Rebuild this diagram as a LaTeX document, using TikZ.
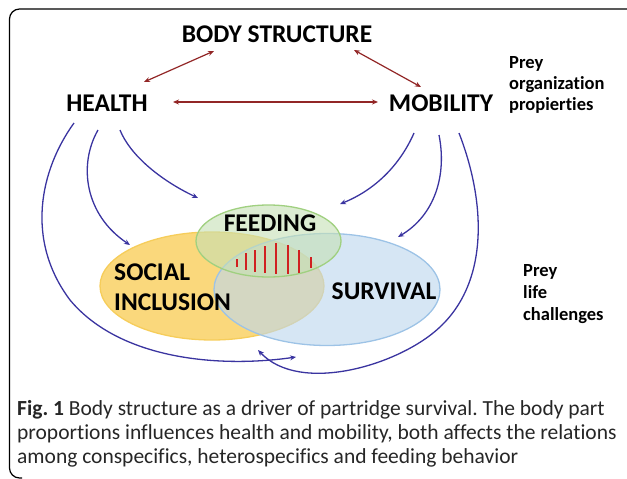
\documentclass[tikz,border=0pt]{standalone}
\usepackage{fontspec}
\setmainfont[Ligatures={NoCommon}]{Carlito}
\usetikzlibrary{arrows.meta}
\frenchspacing
\definecolor{darkred}{HTML}{922626}
\definecolor{arrblue}{HTML}{3A34A0}
\definecolor{yelfill}{HTML}{FAD87C}
\definecolor{yeldraw}{HTML}{F6CD5A}
\definecolor{bluefill}{HTML}{BDD7EE}
\definecolor{bluedraw}{HTML}{9DC3E6}
\definecolor{grnfill}{HTML}{C5E0B4}
\definecolor{grndraw}{HTML}{A0D080}
\definecolor{barred}{HTML}{D02020}
\definecolor{captext}{HTML}{262626}
\tikzset{
  lbl/.style={font=\fontsize{25.5}{30}\selectfont\bfseries, inner sep=0pt},
  side/.style={font=\fontsize{18.5}{22}\selectfont\bfseries, anchor=base west, inner sep=0pt},
  capline/.style={font=\fontsize{21.5}{24}\selectfont, text=captext, anchor=base west, inner sep=0pt},
  redarr/.style={darkred, line width=1.2pt, {Stealth[length=6pt,width=5pt]}-{Stealth[length=6pt,width=5pt]}},
  bluearr/.style={arrblue, line width=1.3pt, -{Stealth[length=6pt,width=5pt]}},
  bar/.style={barred, line width=1.5pt},
}
\begin{document}
\begin{tikzpicture}[x=1pt,y=-1pt]
\useasboundingbox (0,0) rectangle (627,479);
% frame
\draw[line width=1.2pt, rounded corners=10pt] (627,9) -- (9.5,9) -- (9.5,478) -- (22,478);
% ellipses
\path[fill=yelfill, draw=yeldraw, line width=1.3pt] (212,286) ellipse[x radius=112, y radius=54];
\path[fill=bluefill, fill opacity=0.62, draw=bluedraw, line width=1.3pt] (327,289.5) ellipse[x radius=113, y radius=56];
\path[fill=grnfill, fill opacity=0.6, draw=grndraw, line width=1.3pt] (268.5,241) ellipse[x radius=72.5, y radius=36];
% bars
\foreach \x/\a/\b in {237/259/267, 246/253/270, 255/250/272, 265/246/273, 276/243/274, 288/245/274, 299/250/273, 311/257/268}
  \draw[bar] (\x,\a) -- (\x,\b);
% labels
\node[lbl] (body) at (277,34) {BODY STRUCTURE};
\node[lbl] (health) at (107,103.5) {HEALTH};
\node[lbl] (mob) at (441,103.5) {MOBILITY};
\node[lbl] (feed) at (270,223.5) {FEEDING};
\node[lbl, align=left, anchor=west] (social) at (114,287) {SOCIAL\\INCLUSION};
\node[lbl] (surv) at (384,291.5) {SURVIVAL};
\node[side] (org1) at (509,68) {Prey};
\node[side] (org2) at (509,89) {organization};
\node[side] (org3) at (509,110) {propierties};
\node[side] (life1) at (523,276) {Prey};
\node[side] (life2) at (523,298) {life};
\node[side] (life3) at (523,320) {challenges};
% red arrows
\coordinate (bh1) at (214,51); \coordinate (bh2) at (144,82);
\coordinate (bm1) at (354,50); \coordinate (bm2) at (421,87);
\coordinate (hm1) at (173,102); \coordinate (hm2) at (378,102);
\draw[redarr] (bh1) -- (bh2);
\draw[redarr] (bm1) -- (bm2);
\draw[redarr] (hm1) -- (hm2);
% blue arrows from HEALTH
\coordinate (h1) at (74,123); \coordinate (h2) at (98,130); \coordinate (h3) at (120,130);
\coordinate (hb) at (70,300);
\coordinate (e1) at (296,357); \coordinate (e2) at (130,245); \coordinate (e3) at (198,198);
\draw[bluearr] (h1) .. controls (40,170) and (25,240) .. (hb) .. controls (120,360) and (220,368) .. (e1);
\draw[bluearr] (h2) .. controls (78,165) and (85,215) .. (e2);
\draw[bluearr] (h3) .. controls (130,155) and (160,180) .. (e3);
% blue arrows from MOBILITY
\coordinate (m1) at (414,133); \coordinate (m2) at (439,135); \coordinate (m3) at (459,133);
\coordinate (mb) at (440,327);
\coordinate (f1) at (340,204); \coordinate (f2) at (398,237); \coordinate (f3) at (258,350);
\draw[bluearr] (m1) .. controls (400,165) and (375,190) .. (f1);
\draw[bluearr] (m2) .. controls (447,175) and (435,215) .. (f2);
\draw[bluearr] (m3) .. controls (485,200) and (490,280) .. (mb) .. controls (400,365) and (300,395) .. (f3);
% caption
\node[capline] (cap1) at (17,415) {\textbf{Fig. 1} Body structure as a driver of partridge survival. The body part};
\node[capline] (cap2) at (17,439) {proportions influences health and mobility, both affects the relations};
\node[capline] (cap3) at (17,463) {among conspecifics, heterospecifics and feeding behavior};
\end{tikzpicture}
\end{document}
